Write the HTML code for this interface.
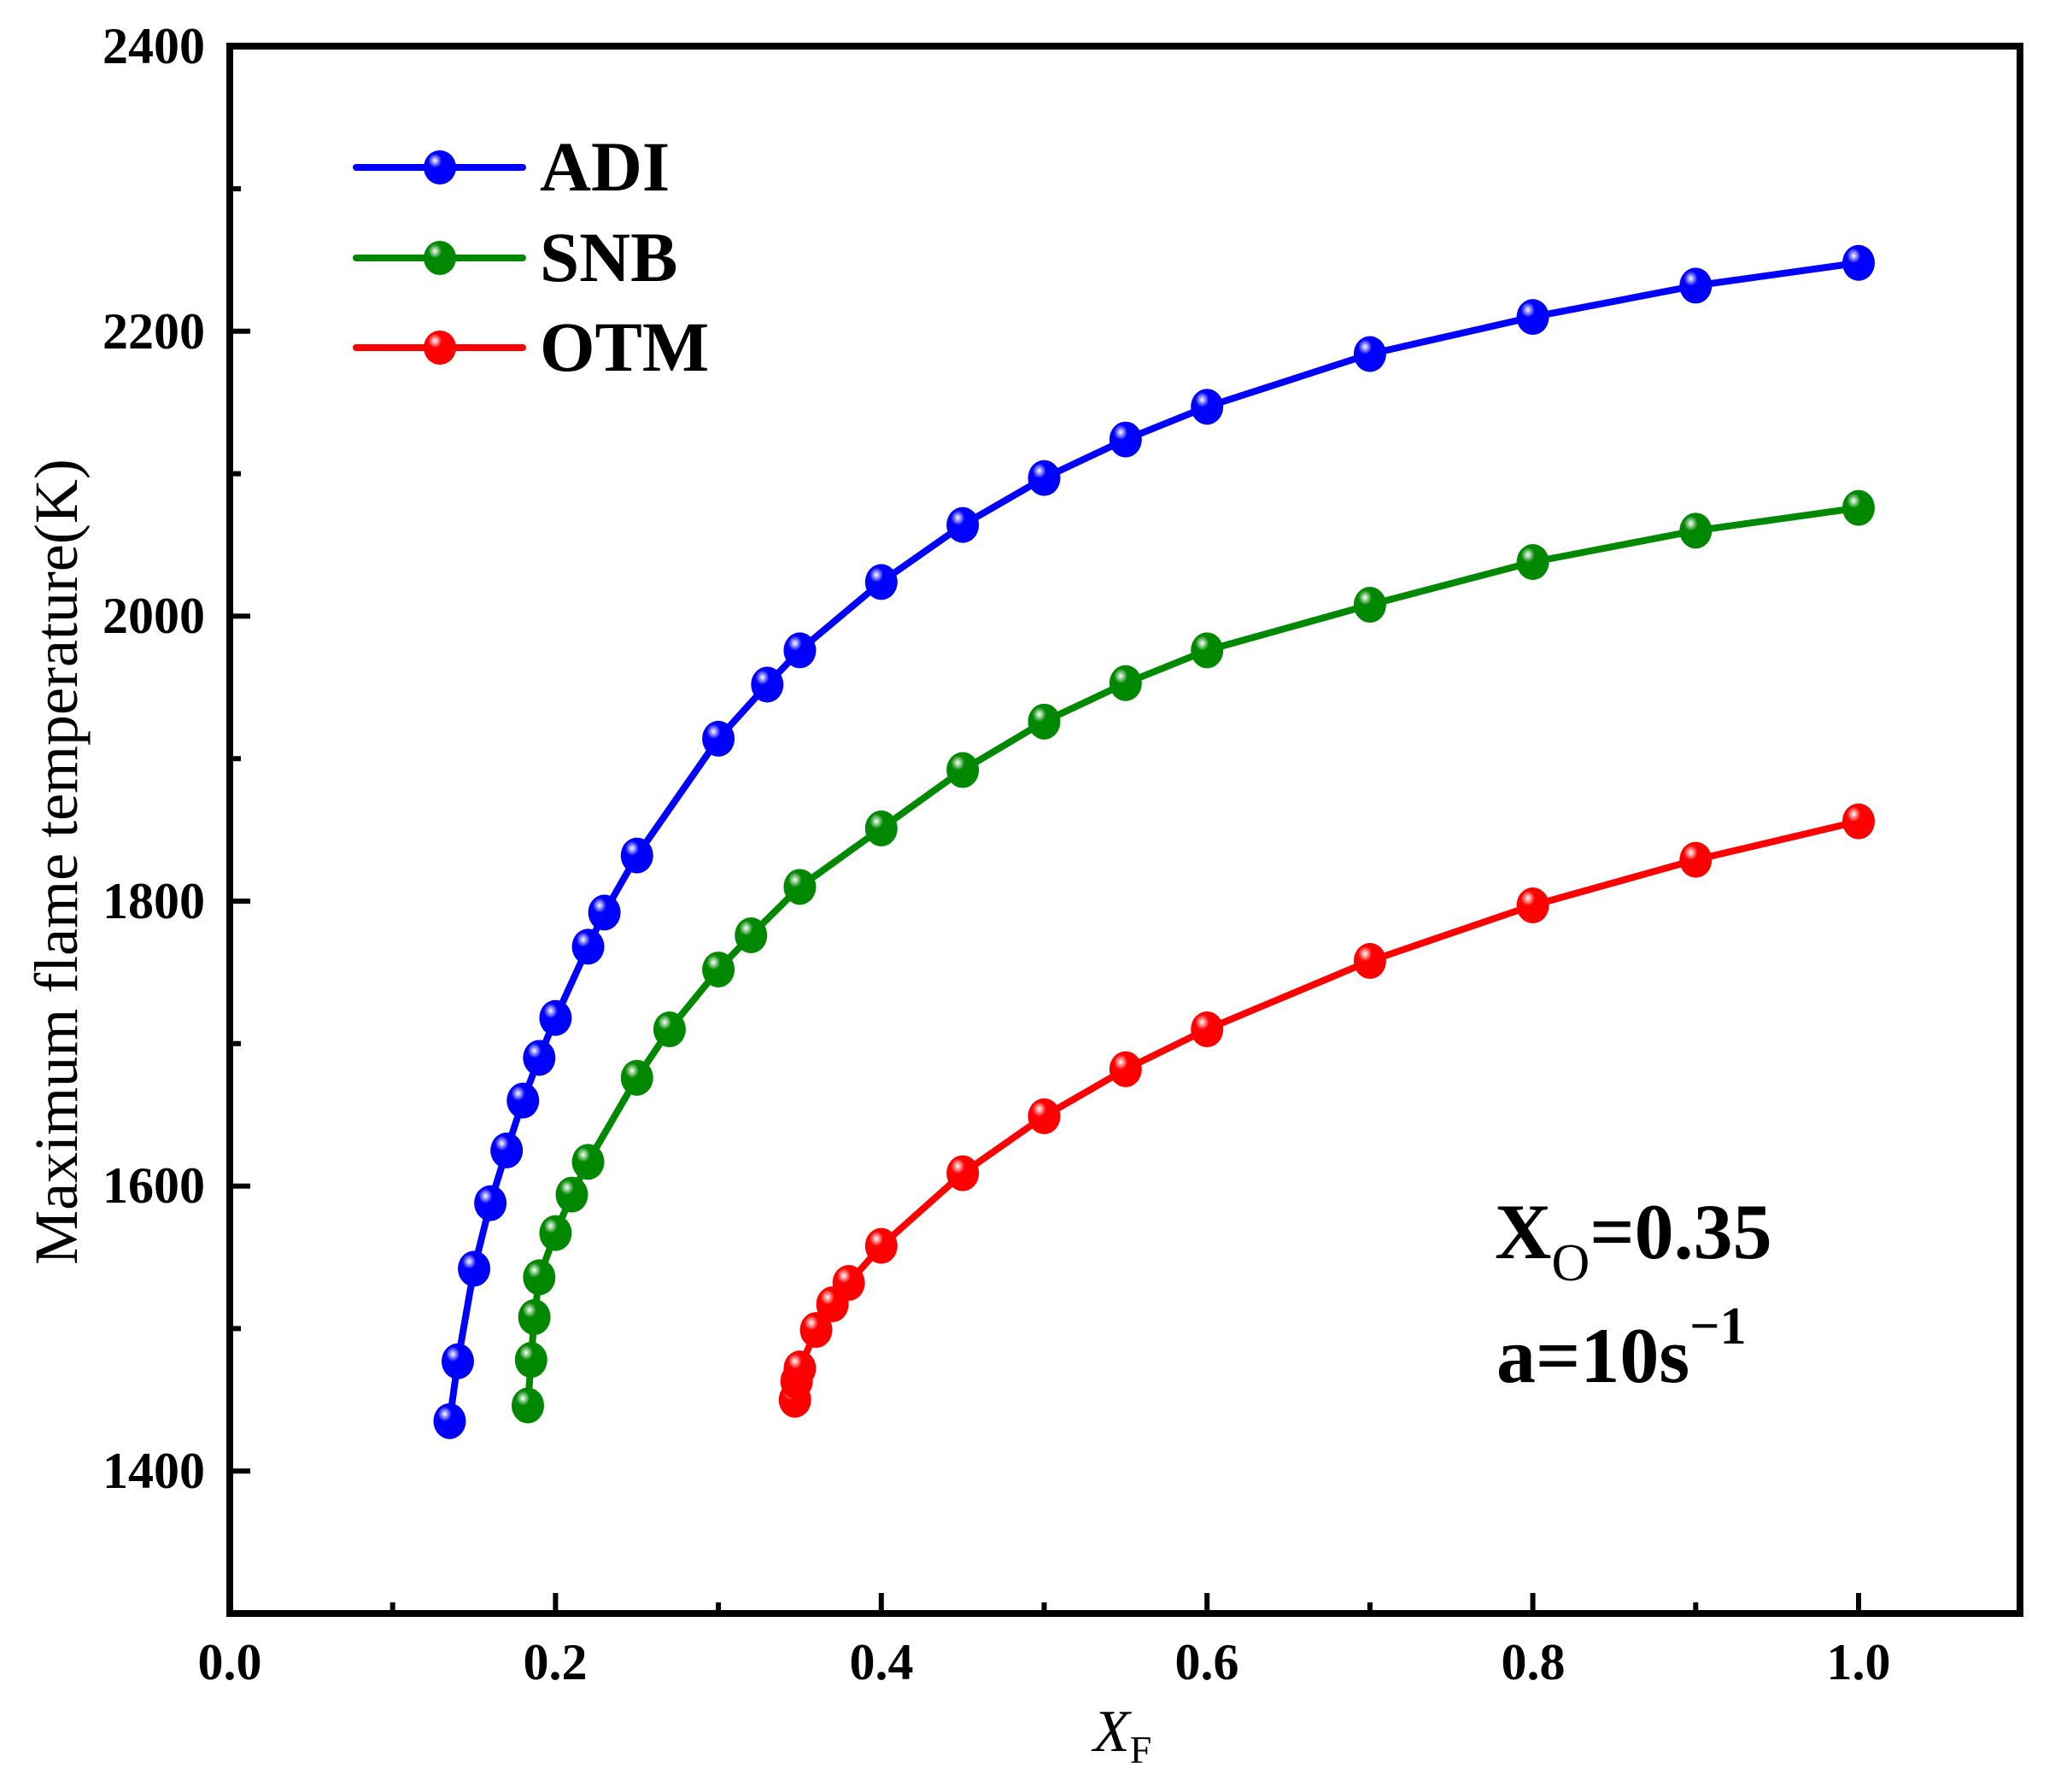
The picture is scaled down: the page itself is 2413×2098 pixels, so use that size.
<!DOCTYPE html>
<html><head><meta charset="utf-8"><style>
html,body{margin:0;padding:0;background:#fff;}
svg{display:block;}
text{font-family:"Liberation Serif",serif;}
</style></head><body>
<svg id="s" width="2413" height="2098" viewBox="0 0 2413 2098" xmlns="http://www.w3.org/2000/svg">
<defs>
<radialGradient id="gb" cx="0.35" cy="0.3" r="0.7"><stop offset="0" stop-color="#fff"/><stop offset="0.3" stop-color="#00f"/><stop offset="1" stop-color="#00f"/></radialGradient>
<radialGradient id="gg" cx="0.35" cy="0.3" r="0.7"><stop offset="0" stop-color="#fff"/><stop offset="0.3" stop-color="#080"/><stop offset="1" stop-color="#080"/></radialGradient>
<radialGradient id="gr" cx="0.35" cy="0.3" r="0.7"><stop offset="0" stop-color="#fff"/><stop offset="0.3" stop-color="#f00"/><stop offset="1" stop-color="#f00"/></radialGradient>
</defs>
<g id="data"></g>
<rect x="269" y="54" width="2096" height="1835" fill="none" stroke="#000" stroke-width="8"/>
<g stroke="#000" stroke-width="6" id="ticks"></g>
<g font-size="60" font-weight="bold" text-anchor="end">
<text x="240" y="74">2400</text><text x="240" y="408">2200</text><text x="240" y="741">2000</text>
<text x="240" y="1075">1800</text><text x="240" y="1408">1600</text><text x="240" y="1742">1400</text>
</g>
<g font-size="60" font-weight="bold" text-anchor="middle">
<text x="269" y="1966">0.0</text><text x="650" y="1966">0.2</text><text x="1032" y="1966">0.4</text>
<text x="1413" y="1966">0.6</text><text x="1795" y="1966">0.8</text><text x="2176" y="1966">1.0</text>
</g>
<text x="0" y="0" font-size="72" text-anchor="middle" transform="translate(90,1009) rotate(-90)">Maximum flame temperature(K)</text>
<text x="1280" y="2050" font-size="70" font-style="italic">X<tspan font-size="46" dy="14" font-style="normal">F</tspan></text>
<g font-size="83" font-weight="bold">
<text x="632" y="223">ADI</text><text x="632" y="329">SNB</text><text x="632" y="434">OTM</text>
</g>
<g font-weight="bold" font-size="92">
<text x="1750" y="1473">X<tspan font-size="62" font-weight="normal" dy="26">O</tspan><tspan dy="-26">=0.35</tspan></text>
<text x="1752" y="1618">a=10s<tspan font-size="62" dy="-45">−1</tspan></text>
</g>
</svg>
<script>
var NS="http://www.w3.org/2000/svg";
function px(x){return 269+x*1907;}function py(y){return 1889-(y-1300)*1.668;}
var S=[
["#00f","gb",[[0.135,1435],[0.14,1477],[0.15,1542],[0.16,1588],[0.17,1625],[0.18,1660],[0.19,1690],[0.2,1718],[0.22,1768],[0.23,1792],[0.25,1832],[0.3,1914],[0.33,1952],[0.35,1976],[0.4,2024],[0.45,2064],[0.5,2097],[0.55,2124],[0.6,2147],[0.7,2184],[0.8,2210],[0.9,2232],[1.0,2248]],196],
["#080","gg",[[0.183,1446],[0.185,1478],[0.187,1508],[0.19,1536],[0.2,1567],[0.21,1594],[0.22,1617],[0.25,1676],[0.27,1710],[0.3,1752],[0.32,1776],[0.35,1810],[0.4,1851],[0.45,1892],[0.5,1926],[0.55,1953],[0.6,1976],[0.7,2008],[0.8,2038],[0.9,2060],[1.0,2076]],302],
["#f00","gr",[[0.347,1450],[0.348,1463],[0.35,1472],[0.36,1499],[0.37,1517],[0.38,1532],[0.4,1558],[0.45,1609],[0.5,1649],[0.55,1682],[0.6,1710],[0.7,1758],[0.8,1797],[0.9,1829],[1.0,1856]],407]];
var g=document.getElementById("data");
function el(n,a){var e=document.createElementNS(NS,n);for(var k in a)e.setAttribute(k,a[k]);g.appendChild(e);return e;}
S.forEach(function(s){
 var pts=s[2].map(function(p){return px(p[0]).toFixed(1)+","+py(p[1]).toFixed(1);}).join(" ");
 el("polyline",{points:pts,fill:"none",stroke:s[0],"stroke-width":8,"stroke-linejoin":"round"});
 s[2].forEach(function(p){el("ellipse",{cx:px(p[0]),cy:py(p[1]),rx:19,ry:21,fill:"url(#"+s[1]+")"});});
 el("line",{x1:417,y1:s[3],x2:612,y2:s[3],stroke:s[0],"stroke-width":8,"stroke-linecap":"round"});
 el("ellipse",{cx:515,cy:s[3],rx:19,ry:20,fill:"url(#"+s[1]+")"});
});
var t=document.getElementById("ticks");
function ln(x1,y1,x2,y2){var e=document.createElementNS(NS,"line");e.setAttribute("x1",x1);e.setAttribute("y1",y1);e.setAttribute("x2",x2);e.setAttribute("y2",y2);t.appendChild(e);}
for(var i=1;i<=10;i++){var x=px(i*0.1);ln(x,1889,x,1889-(i%2==0?24:13));}
for(var v=1300;v<2400;v+=100){var y=py(v);ln(269,y,269+(v%200==0?24:13),y);}
</script>
</body></html>
